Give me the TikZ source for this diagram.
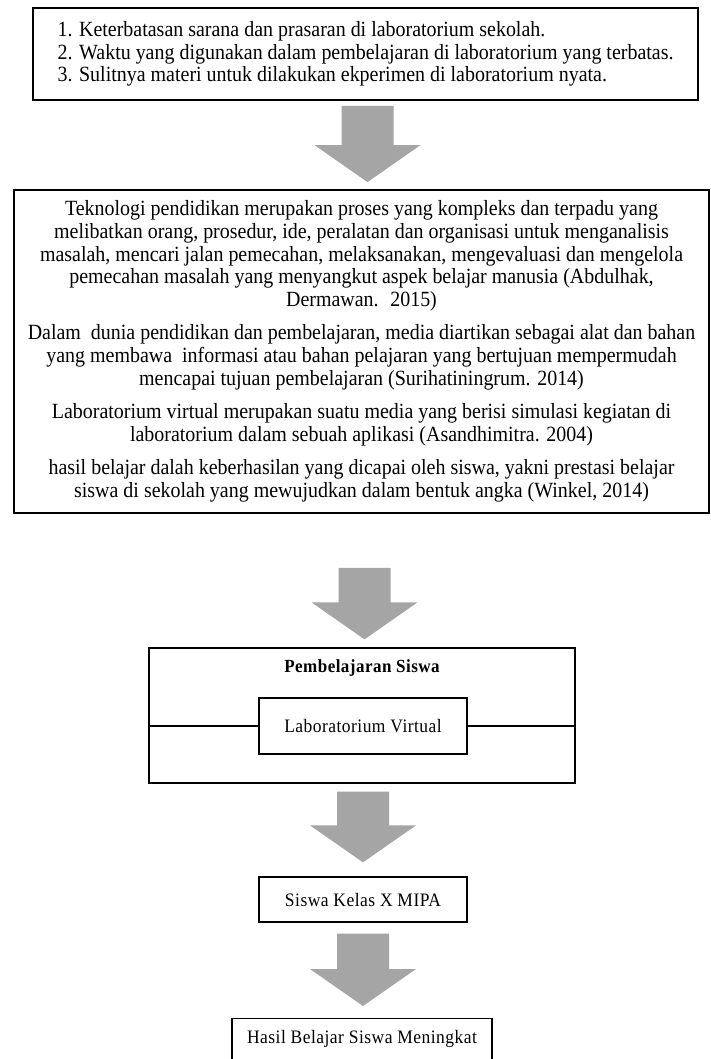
\documentclass[tikz,border=0pt]{standalone}
\usepackage{fontspec}
\setmainfont{Liberation Serif}[FakeStretch=0.92]
\newfontfamily\spacedserif{Liberation Serif}[FakeStretch=0.92,LetterSpace=2.5]
\usepackage{tikz}
\usetikzlibrary{calc}
\definecolor{arrowgray}{RGB}{165,165,165}
\newcommand{\blockarrow}[2]{%
  \fill[arrowgray] ($(#1)+(-26,0)$) -- ($(#1)+(26,0)$) -- ($(#2)+(26,-37)$) -- ($(#2)+(53,-37)$)
    -- (#2) -- ($(#2)+(-53,-37)$) -- ($(#2)+(-26,-37)$) -- cycle;}

\begin{document}
\begin{tikzpicture}[x=1pt,y=-1pt,
  box/.style = {draw, line width=1.3pt, inner sep=0pt},
  heavybox/.style = {box, line width=1.8pt},
  bigtext/.style = {font=\fontsize{21.7}{22.6}\selectfont},
  smalltext/.style = {font=\spacedserif\fontsize{19}{21}\selectfont}]
\useasboundingbox (0,0) rectangle (711,1059);

\node[heavybox, bigtext, align=left, minimum width=665, minimum height=92] (problem) at (365.5,54)
  {1. Keterbatasan sarana dan prasaran di laboratorium sekolah.\\
   2. Waktu yang digunakan dalam pembelajaran di laboratorium yang terbatas.\\
   3. Sulitnya materi untuk dilakukan ekperimen di laboratorium nyata.};

\node[heavybox, bigtext, align=center, minimum width=695, minimum height=323] (theory) at (361.5,351.5)
  {Teknologi pendidikan merupakan proses yang kompleks dan terpadu yang\\
   melibatkan orang, prosedur, ide, peralatan dan organisasi untuk menganalisis\\
   masalah, mencari jalan pemecahan, melaksanakan, mengevaluasi dan mengelola\\
   pemecahan masalah yang menyangkut aspek belajar manusia (Abdulhak,\\
   Dermawan.~ 2015)\\[11pt]
   Dalam~ dunia pendidikan dan pembelajaran, media diartikan sebagai alat dan bahan\\
   yang membawa~ informasi atau bahan pelajaran yang bertujuan mempermudah\\
   mencapai tujuan pembelajaran (Surihatiningrum. 2014)\\[11pt]
   Laboratorium virtual merupakan suatu media yang berisi simulasi kegiatan di\\
   laboratorium dalam sebuah aplikasi (Asandhimitra. 2004)\\[11pt]
   hasil belajar dalah keberhasilan yang dicapai oleh siswa, yakni prestasi belajar\\
   siswa di sekolah yang mewujudkan dalam bentuk angka (Winkel, 2014)};

\node[box, minimum width=426, minimum height=135] (learning) at (362,715.5) {};
\node[font=\spacedserif\fontsize{18.5}{20}\selectfont\bfseries] (learntitle) at (362,668) {Pembelajaran Siswa};
\node[box, smalltext, minimum width=208, minimum height=56] (virtual) at (363,726) {Laboratorium Virtual};
\draw[line width=1.3pt] (virtual.west) -- (virtual.west -| learning.west);
\draw[line width=1.3pt] (virtual.east) -- (virtual.east -| learning.east);

\node[box, smalltext, minimum width=208, minimum height=45] (class) at (363,899.5) {Siswa Kelas X MIPA};
\node[box, smalltext, anchor=north, minimum width=260, inner ysep=12pt, text height=13pt, text depth=40pt] (result) at (362,1018) {Hasil Belajar Siswa Meningkat};

\coordinate (a1top) at ($(problem.south)+(2,5)$);
\coordinate (a1tip) at ($(a1top |- theory.north)+(0,-7)$);
\blockarrow{a1top}{a1tip}
\coordinate (a2top) at ($(theory.south)+(3,54)$);
\coordinate (a2tip) at ($(a2top |- learning.north)+(0,-8)$);
\blockarrow{a2top}{a2tip}
\coordinate (a3top) at ($(learning.south)+(1,8)$);
\coordinate (a3tip) at ($(a3top |- class.north)+(0,-14)$);
\blockarrow{a3top}{a3tip}
\coordinate (a4top) at ($(class.south)+(0,11)$);
\coordinate (a4tip) at ($(a4top |- result.north)+(0,-12)$);
\blockarrow{a4top}{a4tip}
\end{tikzpicture}
\end{document}
